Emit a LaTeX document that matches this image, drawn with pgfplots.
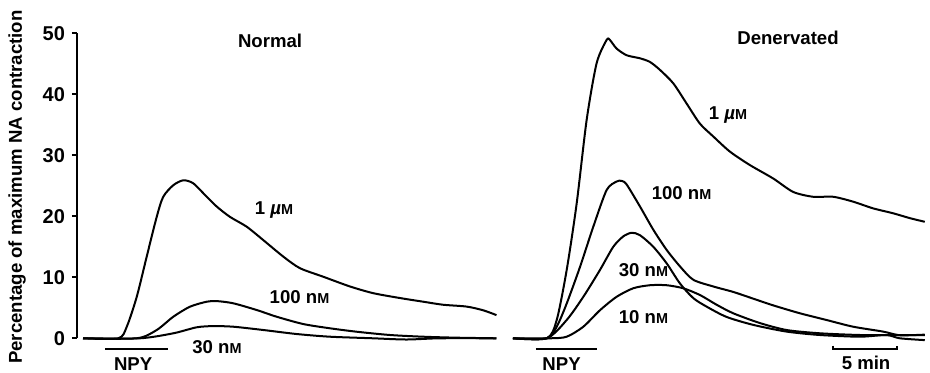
\documentclass[border=0pt]{standalone}
\usepackage{pgfplots}
\pgfplotsset{compat=1.18}
\usepackage{fontspec}
\setmainfont{Liberation Sans}
\newcommand{\sm}{{\fontsize{7.2}{9}\selectfont M}}
\tikzset{lab/.style={inner sep=0pt, anchor=center}}
\begin{document}
\begin{tikzpicture}[font=\bfseries\fontsize{9.3}{11}\selectfont]
\path[use as bounding box] (-38.5pt,-17.35pt) rectangle (426.5pt,169.15pt);
\pgfplotsset{every axis/.append style={scale only axis, clip=false, ymin=0, ymax=50, height=152.5pt, anchor=south west},
  curve/.style={black, line width=1pt, smooth, tension=0.45, no marks}}
% ---------------- Normal ----------------
\begin{axis}[at={(0pt,0pt)}, width=215.5pt, xmin=-2.19, xmax=31.5,
  axis x line=none, axis y line=left, axis line style={-, line width=1pt},
  ytick={0,10,...,50}, ytick align=outside, major tick length=2.5pt,
  major tick style={line width=1pt, black},
  yticklabel style={font=\bfseries\fontsize{10}{12}\selectfont},
  /pgf/number format/assume math mode=true]
\addplot[curve] coordinates {(-1.72,0) (1.04,0) (1.70,1.9) (2.48,6.8) (3.26,13.4) (4.04,19.9) (4.55,23.2) (5.34,25.1) (6.12,25.9) (6.90,25.4) (7.95,23.2) (8.73,21.6) (9.77,19.9) (11.07,18.3) (12.37,16.1) (13.93,13.4) (15.23,11.5) (17.05,10.1) (19.14,8.5) (20.96,7.4) (23.05,6.6) (24.87,6.0) (26.43,5.5) (28.26,5.2) (29.55,4.6) (30.60,3.8)};
\addplot[curve] coordinates {(-1.72,0) (2.48,0) (4.04,1.36) (5.34,3.54) (6.64,5.18) (7.95,6.0) (8.73,6.1) (10.02,5.74) (11.85,4.64) (13.41,3.54) (15.49,2.34) (17.58,1.64) (19.66,1.08) (22.27,0.54) (24.87,0.26) (27.48,0.1) (30.60,0)};
\addplot[curve] coordinates {(-1.72,0) (2.73,0) (5.34,0.82) (7.16,1.8) (8.46,2.0) (10.02,1.9) (12.37,1.36) (14.98,0.7) (17.58,0.26) (20.96,0) (23.57,-0.2) (26.17,0) (30.60,0)};
% NPY bar
\addplot[black, line width=1pt, no marks] coordinates {(0,-1.75) (4.9,-1.75)};
\node[lab] at (axis cs:2.2,-4.2) {NPY};
\node[lab] at (axis cs:12.9,48.7) {Normal};
\node[lab] at (axis cs:13.2,21.0) {1 {\itshape µ}\sm};
\node[lab] at (axis cs:15.2,6.8) {100 n\sm};
\node[lab] at (axis cs:8.75,-1.4) {30 n\sm};
\end{axis}
% ---------------- Denervated ----------------
\begin{axis}[at={(217.5pt,0pt)}, width=209pt, xmin=-1.875, xmax=30.8, hide axis]
\addplot[curve] coordinates {(-1.8,0) (0.84,0) (1.62,3.0) (2.40,11.2) (3.18,22.1) (3.96,35.8) (4.74,45.1) (5.52,48.9) (5.78,48.9) (6.30,47.5) (7.09,46.4) (8.13,45.9) (8.91,45.3) (9.69,44.0) (10.73,41.8) (11.77,38.5) (12.81,35.2) (13.85,33.1) (15.16,30.6) (16.72,28.4) (18.54,26.2) (20.10,24.0) (21.66,23.2) (23.23,23.2) (24.79,22.4) (26.35,21.3) (27.91,20.5) (29.22,19.7) (30.39,19.1)};
\addplot[curve] coordinates {(-1.8,0) (0.84,0) (1.62,1.9) (2.40,5.7) (3.44,11.7) (4.48,18.3) (5.52,24.3) (6.30,25.7) (6.70,25.8) (7.09,25.2) (8.13,21.6) (9.17,17.8) (10.21,14.5) (11.25,11.8) (12.29,9.6) (13.85,8.5) (15.42,7.6) (16.98,6.5) (18.54,5.4) (20.63,4.1) (22.71,3.0) (24.79,1.9) (27.13,1.1) (28.44,0.5) (30.39,0.6)};
\addplot[curve] coordinates {(-1.8,0) (0.84,0) (2.40,3.0) (3.70,6.8) (5.0,11.2) (6.04,15.0) (6.82,16.7) (7.48,17.3) (8.13,16.9) (9.17,15.0) (10.21,12.3) (11.25,9.0) (12.29,6.6) (13.33,5.2) (14.90,3.5) (16.98,2.2) (19.58,1.1) (22.19,0.54) (25.31,0.26) (27.39,0.54) (28.44,0) (30.39,-0.3)};
\addplot[curve] coordinates {(-1.8,0) (1.1,0) (2.40,0.26) (3.70,1.9) (5.0,4.6) (6.30,6.8) (7.60,8.2) (8.91,8.7) (10.21,8.7) (11.51,8.2) (12.81,7.1) (14.12,5.5) (15.42,4.1) (17.5,2.5) (19.58,1.36) (22.19,0.82) (25.31,0.54) (27.91,0.54) (30.39,0.54)};
% NPY bar and scale bar
\addplot[black, line width=1pt, no marks] coordinates {(0,-1.75) (4.77,-1.75)};
\addplot[black, line width=0.9pt, no marks] coordinates {(23.2,-1.2) (23.2,-1.75) (28.2,-1.75) (28.2,-1.2)};
\node[lab] at (axis cs:2.0,-4.2) {NPY};
\node[lab] at (axis cs:25.8,-4.0) {5 min};
\node[lab] at (axis cs:19.7,49.3) {Denervated};
\node[lab] at (axis cs:15.0,36.6) {1 {\itshape µ}\sm};
\node[lab] at (axis cs:11.38,23.8) {100 n\sm};
\node[lab] at (axis cs:8.4,11.2) {30 n\sm};
\node[lab] at (axis cs:8.4,3.5) {10 n\sm};
\end{axis}
\node[rotate=90, inner sep=0pt] at (-30pt,75.6pt) {Percentage of maximum NA contraction};
\end{tikzpicture}
\end{document}
